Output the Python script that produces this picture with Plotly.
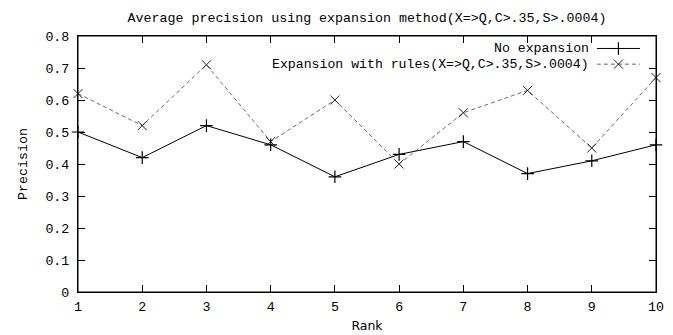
import plotly.graph_objects as go

ranks = [1, 2, 3, 4, 5, 6, 7, 8, 9, 10]
no_expansion = [0.50, 0.42, 0.52, 0.46, 0.36, 0.43, 0.47, 0.37, 0.41, 0.46]
with_rules = [0.62, 0.52, 0.71, 0.47, 0.60, 0.40, 0.56, 0.63, 0.45, 0.67]
y_ticks = [0, 0.1, 0.2, 0.3, 0.4, 0.5, 0.6, 0.7, 0.8]
y_tick_labels = ["0", "0.1", "0.2", "0.3", "0.4", "0.5", "0.6", "0.7", "0.8"]
names = ["No expansion", "Expansion with rules(X=>Q,C>.35,S>.0004)"]

FONT = "Liberation Mono, DejaVu Sans Mono, monospace"
FS = 13.3

styles = [
    dict(line=dict(color="#000000", width=1),
         marker=dict(symbol="cross-thin", size=9, line=dict(color="#000000", width=1.2))),
    dict(line=dict(color="#444444", width=0.8, dash="4px,3px"),
         marker=dict(symbol="x-thin", size=9, line=dict(color="#222222", width=1))),
]

fig = go.Figure()
for ys, name, st in zip([no_expansion, with_rules], names, styles):
    fig.add_trace(go.Scatter(x=ranks, y=ys, mode="lines+markers", name=name,
                             line=st["line"], marker=st["marker"],
                             showlegend=False, cliponaxis=False))

# gnuplot-style key (text, then sample) inside the plot's top-right corner
key_rows_y = [0.761, 0.712]
key_x0, key_x1 = 9.08, 9.75
for yy, name, st in zip(key_rows_y, names, styles):
    fig.add_trace(go.Scatter(x=[key_x0, key_x1], y=[yy, yy], mode="lines",
                             line=st["line"], showlegend=False, hoverinfo="skip"))
    fig.add_trace(go.Scatter(x=[(key_x0 + key_x1) / 2], y=[yy], mode="markers",
                             marker=st["marker"], showlegend=False, hoverinfo="skip"))
    fig.add_annotation(x=8.97, y=yy, xref="x", yref="y", text=name, showarrow=False,
                       xanchor="right", yanchor="middle", borderpad=0,
                       font=dict(family=FONT, size=13.2, color="#000000"))

axis_common = dict(ticks="inside", ticklen=7, tickwidth=1, tickcolor="#000000",
                   showline=True, linecolor="#000000", linewidth=1, mirror="ticks",
                   showgrid=False, zeroline=False, automargin=False,
                   tickfont=dict(family=FONT, size=FS, color="#000000"))

# the page body has an 8px margin, so the figure is sized/positioned to compensate
fig.update_layout(
    width=665, height=327,
    margin=dict(l=70, r=17, t=28, b=43),
    paper_bgcolor="white", plot_bgcolor="white",
    font=dict(family=FONT, size=FS, color="#000000"),
    title=dict(text="Average precision using expansion method(X=>Q,C>.35,S>.0004)",
               xref="paper", x=0.5, xanchor="center", y=0.970, yanchor="middle",
               font=dict(family=FONT, size=FS, color="#000000")),
    xaxis=dict(range=[1, 10], tickvals=ranks, ticklabelstandoff=2,
               title=dict(text="Rank", standoff=7,
                          font=dict(family="DejaVu Sans, sans-serif", size=12.5)),
               **axis_common),
    yaxis=dict(range=[0, 0.8], tickvals=y_ticks, ticktext=y_tick_labels,
               ticklabelstandoff=5,
               title=dict(text="Precision", standoff=14,
                          font=dict(family=FONT, size=FS)),
               **axis_common),
    shapes=[dict(type="rect", xref="paper", yref="paper", x0=0, y0=0, x1=1, y1=1,
                 line=dict(color="#000000", width=1), layer="above")],
)

fig.write_html("out.html")
